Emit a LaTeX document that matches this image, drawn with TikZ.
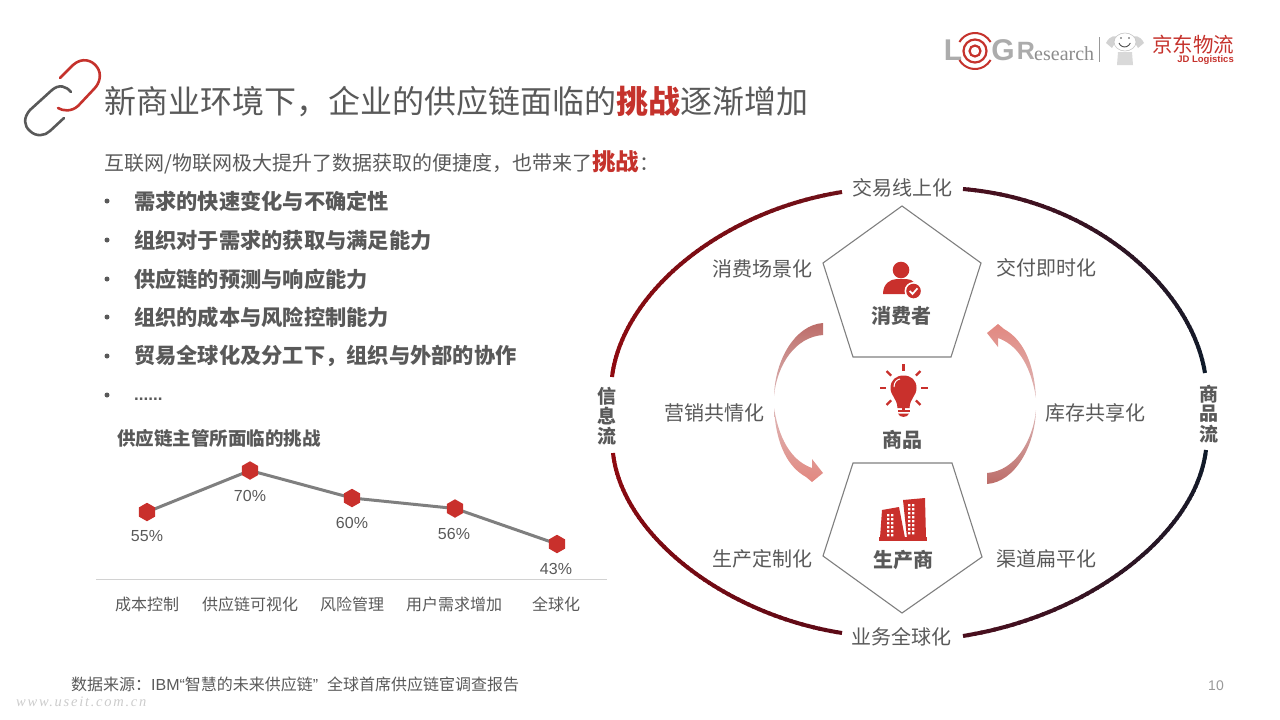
\documentclass[tikz,border=0pt]{standalone}
\usepackage{fontspec}
\setmainfont{Noto Sans CJK SC}
\newfontfamily\lat{Liberation Sans}
\newfontfamily\serifl{Liberation Serif}
\newfontfamily\wmfont[LetterSpace=12]{Liberation Serif}
\usetikzlibrary{shapes.geometric,backgrounds}
\definecolor{txt}{HTML}{595959}
\definecolor{redx}{HTML}{C5322C}
\definecolor{redmk}{HTML}{C9302C}
\definecolor{linegray}{HTML}{7F7F7F}
\definecolor{pentgray}{HTML}{7F7F7F}
\definecolor{rA}{HTML}{8F0A10}
\definecolor{rB}{HTML}{6E1018}
\definecolor{rC}{HTML}{5C0A16}
\definecolor{dA}{HTML}{0F1B2A}
\definecolor{dB}{HTML}{4A0F1E}
\definecolor{pk}{HTML}{E28880}
\definecolor{rs}{HTML}{BC6C68}
\definecolor{pale}{HTML}{DDB8B8}
\newcommand{\fs}[1]{\fontsize{#1}{#1}\selectfont}
\newcommand{\fwc}{\char"FF0C\relax}
\newcommand{\fwk}{\char"FF1A\relax}
% cubic Bezier ring segment, colour graded from #9 to \ce
\newcommand{\ringarc}[9]{%
  \foreach \i in {0,...,59}{%
    \pgfmathsetmacro{\ta}{\i/60}%
    \pgfmathsetmacro{\tb}{min(1,(\i+1.25)/60)}%
    \pgfmathsetmacro{\xa}{(1-\ta)^3*#1+3*(1-\ta)^2*\ta*#3+3*(1-\ta)*\ta^2*#5+\ta^3*#7}%
    \pgfmathsetmacro{\ya}{(1-\ta)^3*#2+3*(1-\ta)^2*\ta*#4+3*(1-\ta)*\ta^2*#6+\ta^3*#8}%
    \pgfmathsetmacro{\xb}{(1-\tb)^3*#1+3*(1-\tb)^2*\tb*#3+3*(1-\tb)*\tb^2*#5+\tb^3*#7}%
    \pgfmathsetmacro{\yb}{(1-\tb)^3*#2+3*(1-\tb)^2*\tb*#4+3*(1-\tb)*\tb^2*#6+\tb^3*#8}%
    \pgfmathsetmacro{\pp}{100-\i*100/59}%
    \draw[line width=4pt,color=#9!\pp!\ce] (\xa,\ya) -- (\xb,\yb);
  }}
\tikzset{
  lab/.style={font=\fs{20},text=txt,inner sep=0pt},
  blab/.style={font=\fs{20}\bfseries,text=txt,inner sep=0pt},
  bul/.style={font=\fs{21.25}\bfseries,text=txt,inner sep=0pt,anchor=west},
  bdot/.style={circle,fill=txt,inner sep=0pt,minimum size=5pt},
  pent/.style={draw=pentgray,line width=1.1pt,line join=miter},
  mk/.style={regular polygon,regular polygon sides=6,shape border rotate=30,fill=redmk,inner sep=0pt,minimum size=18.5pt},
  val/.style={font=\lat\fs{16},text=txt,inner sep=0pt},
  cat/.style={font=\fs{16},text=txt,inner sep=0pt},
  conn/.style={draw=linegray,line width=3pt},
  vstack/.style={font=\fs{19}\bfseries,text=txt,inner sep=0pt,align=center},
}
\begin{document}
\begin{tikzpicture}[x=1pt,y=-1pt]
\useasboundingbox (0,0) rectangle (1280,720);
% link icon
\draw[redx,line width=2.6pt,line cap=round] (60,78) -- (73,65) .. controls (82,57) and (92,60) .. (97,67) .. controls (102,74) and (100,83) .. (94,89) -- (78,106) .. controls (71,112) and (63,111) .. (58,108);
\draw[txt,line width=2.6pt,line cap=round] (71,92) .. controls (66,86) and (59,84) .. (52,90) -- (30,110) .. controls (23,118) and (24,126) .. (30,131) .. controls (36,137) and (45,136) .. (50,131) -- (64,118);
% title
\node[anchor=west,inner sep=0pt,text=txt,font=\fs{32}] (title) at (104,102) {新商业环境下\fwc 企业的供应链面临的{\bfseries\color{redx}挑战}逐渐增加};
% logo
\node[inner sep=0pt,font=\lat\fs{30}\bfseries,text=gray!65] (logoL) at (953,50) {L};
\draw[redx,line width=2.2pt] (975,51) circle (5.5pt);
\draw[redx,line width=2.2pt] (975,51) circle (11.5pt);
\draw[redx,line width=2pt] (975,51) ++(-150:18pt) arc[start angle=-150,end angle=-30,radius=18pt];
\draw[redx,line width=2pt] (975,51) ++(150:18pt) arc[start angle=150,end angle=30,radius=18pt];
\node[inner sep=0pt,font=\lat\fs{30}\bfseries,text=gray!65] (logoG) at (1003,50) {G};
\node[inner sep=0pt,font=\lat\fs{25}\bfseries,text=gray!65] (logoR) at (1026,51) {R};
\node[anchor=west,inner sep=0pt,font=\serifl\fs{20},text=gray!90] (logoE) at (1034,54) {esearch};
\draw[gray!80,line width=1pt] (1099,37) -- (1099,62);
% dog
\fill[gray!35] (1106,43) .. controls (1110,35) and (1116,35) .. (1118,38) -- (1112,48) -- cycle;
\fill[gray!35] (1144,43) .. controls (1140,35) and (1134,35) .. (1132,38) -- (1138,48) -- cycle;
\draw[gray!45,fill=white,line width=.6pt] (1125,42) ellipse (11pt and 9pt);
\fill[gray!30] (1118,52) -- (1132,52) -- (1133,65) -- (1117,65) -- cycle;
\draw[black!70,line width=.9pt] (1119,43) arc[start angle=200,end angle=340,radius=6pt];
\fill[black!70] (1121,38) circle (.9pt) (1129,38) circle (.9pt);
\node[inner sep=0pt,font=\fs{20.5},text=redx] (jd) at (1193,45) {京东物流};
\node[anchor=east,inner sep=0pt,font=\lat\fs{9.5}\bfseries,text=redx] (jdl) at (1234,60) {JD Logistics};
% intro
\node[anchor=west,inner sep=0pt,text=txt,font=\fs{20}] (intro) at (104,162) {互联网/物联网极大提升了数据获取的便捷度\fwc 也带来了{\fs{23.5}\bfseries\color{redx}挑战}\fwk};
% bullets
\foreach \n/\y in {a/201,b/240,c/279,d/317,e/356,f/395}{\node[bdot] (d\n) at (107,\y) {};}
\node[bul] (b1) at (134,201) {需求的快速变化与不确定性};
\node[bul] (b2) at (134,240) {组织对于需求的获取与满足能力};
\node[bul] (b3) at (134,279) {供应链的预测与响应能力};
\node[bul] (b4) at (134,317) {组织的成本与风险控制能力};
\node[bul] (b5) at (134,356) {贸易全球化及分工下\fwc 组织与外部的协作};
\node[bul,font=\lat\fs{17}\bfseries] (b6) at (134,399) {......};
% chart
\node[anchor=west,inner sep=0pt,text=txt,font=\fs{18.5}\bfseries] (ctitle) at (117,438) {供应链主管所面临的挑战};
\node[mk] (p1) at (147,512) {};
\node[mk] (p2) at (250,470.5) {};
\node[mk] (p3) at (352,498) {};
\node[mk] (p4) at (455,508.5) {};
\node[mk] (p5) at (557,544) {};
\begin{scope}[on background layer]
\draw[conn] (p1.center) -- (p2.center) -- (p3.center) -- (p4.center) -- (p5.center);
\end{scope}
\node[val] (v1) at (147,536) {55\%};
\node[val] (v2) at (250,496) {70\%};
\node[val] (v3) at (352,523) {60\%};
\node[val] (v4) at (454,534) {56\%};
\node[val] (v5) at (556,569) {43\%};
\coordinate (axl) at (96,579);
\coordinate (axr) at (607,579);
\draw[gray!35,line width=1pt] (axl) -- (axr);
\node[cat] (c1) at (147,604) {成本控制};
\node[cat] (c2) at (250,604) {供应链可视化};
\node[cat] (c3) at (352,604) {风险管理};
\node[cat] (c4) at (454,604) {用户需求增加};
\node[cat] (c5) at (556,604) {全球化};
% source + page
\node[anchor=west,inner sep=0pt,text=txt,font=\fs{16}] (src) at (71,684) {数据来源\fwk {\lat IBM“}智慧的未来供应链{\lat ”\ \ }全球首席供应链宦调查报告};
\node[inner sep=0pt,text=gray!80,font=\lat\fs{14}] (pg) at (1216,686) {10};
\node[anchor=west,inner sep=0pt,text=gray!40,font=\wmfont\itshape\fs{14.5}] (wm) at (16,702) {www.useit.com.cn};
% big ring
\def\ce{rB}\ringarc{612}{377}{622}{295}{718}{212}{842}{192}{rA}
\def\ce{dB}\ringarc{1205}{373}{1192}{290}{1095}{200}{963}{189}{dA}
\def\ce{rC}\ringarc{613}{453}{622}{535}{725}{615}{842}{633}{rA}
\def\ce{dB}\ringarc{1206}{450}{1197}{530}{1095}{615}{963}{636}{dA}
% pentagons
\draw[pent] (902,206) -- (981,263) -- (951,357) -- (853,357) -- (823,263) -- cycle;
\draw[pent] (853,463) -- (952,463) -- (982,557) -- (902,613) -- (823,556) -- cycle;
% labels
\node[lab] (l1) at (902,188) {交易线上化};
\node[lab] (l2) at (762,269) {消费场景化};
\node[lab] (l3) at (1046,268) {交付即时化};
\node[lab] (l4) at (714,413) {营销共情化};
\node[lab] (l5) at (1095,413) {库存共享化};
\node[lab] (l6) at (762,559) {生产定制化};
\node[lab] (l7) at (1046,559) {渠道扁平化};
\node[lab] (l8) at (901,637) {业务全球化};
\node[blab] (n1) at (901,316) {消费者};
\node[blab] (n2) at (902,440) {商品};
\node[blab] (n3) at (903,560) {生产商};
\node[vstack] (s1a) at (607,396) {信};
\node[vstack] (s1b) at (607,416) {息};
\node[vstack] (s1c) at (607,436) {流};
\node[vstack] (s2a) at (1209,394) {商};
\node[vstack] (s2b) at (1209,414) {品};
\node[vstack] (s2c) at (1209,434) {流};
% person icon
\fill[redmk] (901,270) circle (8.3pt);
\fill[redmk] (883,294) .. controls (883,284) and (890,279) .. (897,279) -- (906,279) .. controls (913,279) and (918,284) .. (919,294) -- cycle;
\fill[white] (913.5,291) circle (9pt);
\fill[redmk] (913.5,291) circle (7.3pt);
\draw[white,line width=1.7pt] (909.7,291) -- (912.5,294) -- (917.5,288.3);
% bulb icon
\fill[redmk] (890.5,388) .. controls (890.5,380) and (896,375.5) .. (903.5,375.5) .. controls (911,375.5) and (916.5,380) .. (916.5,388) .. controls (916.5,396) and (910,398) .. (909.5,408) -- (897.5,408) .. controls (897,398) and (890.5,396) .. (890.5,388) -- cycle;
\fill[redmk] (897.5,410) rectangle (909.5,412);
\fill[redmk] (898,413.5) -- (909,413.5) .. controls (908,418) and (899,418) .. (898,413.5) -- cycle;
\draw[white,line width=1pt] (894,387) .. controls (894,382) and (897,379.5) .. (900,379);
\foreach \a in {0,45,...,315}{\draw[redmk,line width=2.2pt] (903.5,388) ++(\a:17.5pt) -- ++(\a:6.5pt);}
% building icon
\fill[redmk] (882,510) -- (899,507) -- (905,538) -- (880,538) -- cycle;
\fill[redmk] (903,500) -- (925,498) -- (926,538) -- (907,538) -- cycle;
\fill[redmk] (879,537) -- (927,537) -- (927,541) -- (879,541) -- cycle;
\foreach \y in {514,518,522,526,530,534}{\fill[white] (887,\y) rectangle +(2.3,2.3) (891,\y) rectangle +(2.3,2.3);}
\foreach \y in {504,508,512,516,520,524,528,532}{\fill[white] (908,\y) rectangle +(2.3,2.3) (912,\y) rectangle +(2.3,2.3);}
% left curved arrow
\shade[top color=rs,bottom color=pale] (823,323) .. controls (795,325) and (775,360) .. (774,396) .. controls (777,365) and (795,337) .. (823,335) -- cycle;
\shade[top color=pale,bottom color=pk] (774,408) .. controls (776,445) and (788,467) .. (806,477) -- (812,482) -- (823,473) -- (812,459) -- (812,468) .. controls (795,462) and (780,445) .. (774,408) -- cycle;
% right curved arrow
\shade[bottom color=rs,top color=pale] (987,484) .. controls (1015,482) and (1035,446) .. (1036,410) .. controls (1033,441) and (1015,471) .. (987,473) -- cycle;
\shade[bottom color=pale,top color=pk] (1036,398) .. controls (1034,361) and (1022,339) .. (1004,329) -- (998,324) -- (987,333) -- (998,347) -- (998,338) .. controls (1015,344) and (1030,361) .. (1036,398) -- cycle;
\end{tikzpicture}
\end{document}
